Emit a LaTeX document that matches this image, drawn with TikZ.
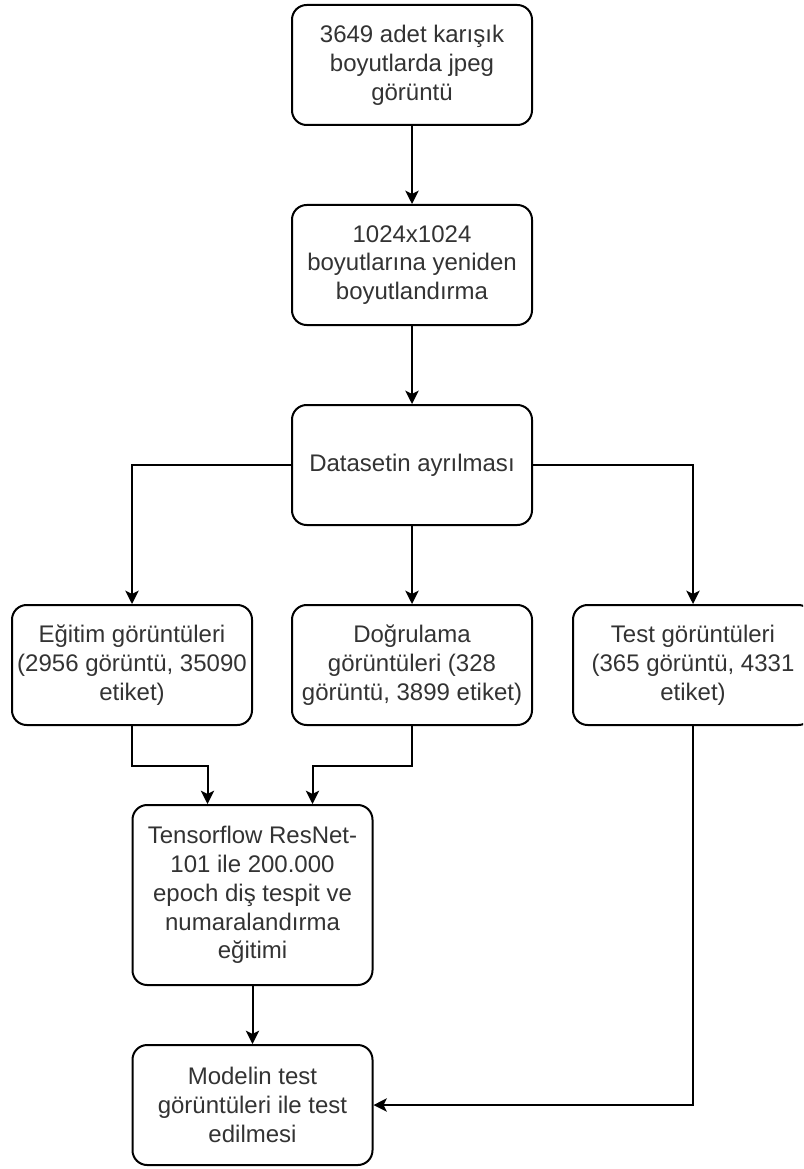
\documentclass[tikz,border=0pt]{standalone}
\usepackage{fontspec}
\setmainfont{Liberation Sans}
\usetikzlibrary{arrows.meta,calc}
\begin{document}
\begin{tikzpicture}[x=0.75pt,y=-0.75pt,
  stepbox/.style={draw=black,line width=1.5pt,fill=white,rounded corners=11pt,
    minimum width=180pt,minimum height=90pt,align=center,
    text=black!80,font=\fontsize{18pt}{21.6pt}\selectfont,inner sep=0pt},
  tallbox/.style={stepbox,minimum height=135pt},
  flow/.style={draw=black,line width=1.5pt,
    -{Stealth[length=10pt,width=10pt,inset=2.5pt]}}]
\useasboundingbox (0,0) rectangle (803,1169);
\clip (0,0) rectangle (803,1169);

% process boxes
\node[stepbox] (b1) at (412,65)  {3649 adet karışık\\boyutlarda jpeg\\görüntü};
\node[stepbox] (b2) at (412,265) {1024x1024\\boyutlarına yeniden\\boyutlandırma};
\node[stepbox] (b3) at (412,465) {Datasetin ayrılması};
\node[stepbox] (b4) at (132,665) {Eğitim görüntüleri\\(2956 görüntü, 35090\\etiket)};
\node[stepbox] (b5) at (412,665) {Doğrulama\\görüntüleri (328\\görüntü, 3899 etiket)};
\node[stepbox] (b6) at (693,665) {Test görüntüleri\\(365 görüntü, 4331\\etiket)};
\node[tallbox] (b7) at (252.5,895) {Tensorflow ResNet-\\101 ile 200.000\\epoch diş tespit ve\\numaralandırma\\eğitimi};
\node[stepbox] (b8) at (252.5,1105) {Modelin test\\görüntüleri ile test\\edilmesi};

% connectors
\draw[flow] (b1) -- (b2);
\draw[flow] (b2) -- (b3);
\draw[flow] (b3.west) -| (b4.north);
\draw[flow] (b3) -- (b5);
\draw[flow] (b3.east) -| (b6.north);
\draw[flow] (b4.south) -- ++(0,40) -| ($(b7.north)+(-45,0)$);
\draw[flow] (b5.south) -- ++(0,40) -| ($(b7.north)+(60,0)$);
\draw[flow] (b7) -- (b8);
\draw[flow] (b6.south) |- (b8.east);
\end{tikzpicture}
\end{document}
